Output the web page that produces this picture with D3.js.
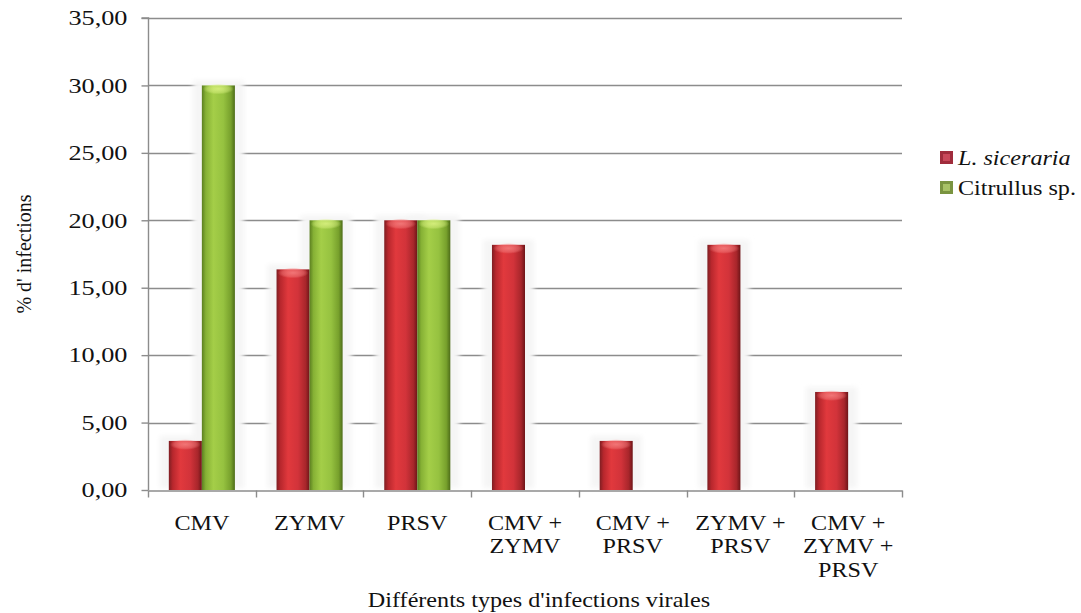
<!DOCTYPE html>
<html>
<head>
<meta charset="utf-8">
<script src="https://cdn.jsdelivr.net/npm/d3@7"></script>
<style>
  html, body { margin: 0; padding: 0; background: #fff; }
  svg { display: block; }
  text { font-family: "Liberation Serif", "Times New Roman", serif; fill: #111; }
</style>
</head>
<body>
<svg id="chart" width="1081" height="613"></svg>
<script>
// Virus combinations on the x axis
const categories = [
  ["CMV"],
  ["ZYMV"],
  ["PRSV"],
  ["CMV +", "ZYMV"],
  ["CMV +", "PRSV"],
  ["ZYMV +", "PRSV"],
  ["CMV +", "ZYMV +", "PRSV"]
];
const categoryKeys = ["CMV", "ZYMV", "PRSV", "CMV+ZYMV", "CMV+PRSV", "ZYMV+PRSV", "CMV+ZYMV+PRSV"];

// Infection rates (%) per host
const seriesNames = ["L. siceraria", "Citrullus sp."];
const sicerariaValues = [3.64, 16.36, 20.00, 18.18, 3.64, 18.18, 7.27];
const citrullusValues = [30.00, 20.00, 20.00, 0, 0, 0, 0];

const yTicks = [0, 5, 10, 15, 20, 25, 30, 35];

const SERIF = "Liberation Serif";
const svg = d3.select("#chart");
const plot = { left: 148, right: 902, top: 18, bottom: 490 };

const x = d3.scaleBand().domain(categoryKeys).range([plot.left, plot.right]).paddingInner(0).paddingOuter(0);
const inner = d3.scaleBand().domain(seriesNames).range([0, x.bandwidth()]).paddingInner(0).paddingOuter(0.63);
const y = d3.scaleLinear().domain([0, 35]).range([plot.bottom, plot.top]);

const fmt = v => d3.format(".2f")(v).replace(".", ",");

// Gradients giving the bars a rounded, cylindrical look
const defs = svg.append("defs");
function bodyGradient(id, stops) {
  const g = defs.append("linearGradient").attr("id", id).attr("x1", "0").attr("x2", "1").attr("y1", "0").attr("y2", "0");
  stops.forEach(([o, c]) => g.append("stop").attr("offset", o).attr("stop-color", c));
}
bodyGradient("redBody", [[0, "#7e1e22"], [0.12, "#b8272d"], [0.35, "#e1393d"], [0.65, "#d2333a"], [0.88, "#a8262b"], [1, "#6e1518"]]);
bodyGradient("greenBody", [[0, "#5b7f20"], [0.12, "#86b135"], [0.35, "#a4ce48"], [0.65, "#96c240"], [0.88, "#77a02c"], [1, "#4d6c18"]]);
function capGradient(id, inner) {
  const g = defs.append("radialGradient").attr("id", id).attr("cx", "0.5").attr("cy", "0.45").attr("r", "0.5");
  g.append("stop").attr("offset", 0).attr("stop-color", inner).attr("stop-opacity", 0.85);
  g.append("stop").attr("offset", 0.7).attr("stop-color", inner).attr("stop-opacity", 0.45);
  g.append("stop").attr("offset", 1).attr("stop-color", inner).attr("stop-opacity", 0);
}
capGradient("redCap", "#f58080");
capGradient("greenCap", "#dcf384");
defs.append("filter").attr("id", "halo").attr("x", "-50%").attr("y", "-20%").attr("width", "200%").attr("height", "140%")
  .append("feGaussianBlur").attr("stdDeviation", 2.5);

// Gridlines
svg.append("g")
  .selectAll("line").data(yTicks.filter(t => t > 0)).join("line")
  .attr("x1", plot.left).attr("x2", plot.right)
  .attr("y1", d => Math.round(y(d)) + 0.5).attr("y2", d => Math.round(y(d)) + 0.5)
  .attr("stroke", "#8c8c8c").attr("stroke-width", 1.4);

const rows = categoryKeys.map((k, i) => ({ key: k, values: [sicerariaValues[i], citrullusValues[i]] }));
const bars = [];
rows.forEach(r => r.values.forEach((v, j) => { if (v > 0) bars.push({ key: r.key, series: seriesNames[j], j, v }); }));

// Soft light halo behind each bar
svg.append("g").selectAll("rect").data(bars).join("rect")
  .attr("x", d => x(d.key) + inner(d.series) - 9)
  .attr("width", inner.bandwidth() + 18)
  .attr("y", d => y(d.v) - 5)
  .attr("height", d => plot.bottom - y(d.v) + 3)
  .attr("fill", "#f5f5f5").attr("filter", "url(#halo)");

// Axes
const yAxis = d3.axisLeft(y).tickValues(yTicks).tickFormat(fmt).tickSize(7).tickPadding(21);
const gy = svg.append("g").attr("transform", `translate(${plot.left + 0.5},0)`).call(yAxis);
gy.attr("font-family", SERIF);
gy.select(".domain").attr("stroke", "#8c8c8c").attr("stroke-width", 1.4).attr("d", `M-7,${plot.top}H0V${plot.bottom}`);
gy.selectAll(".tick line").attr("stroke", "#8c8c8c").attr("stroke-width", 1.4);
gy.selectAll(".tick text").attr("font-size", 21).attr("font-family", SERIF).attr("fill", "#111")
  .attr("transform", "scale(1.25,1)")
  .attr("x", -21 / 1.25);

const xAxis = d3.axisBottom(x).tickSize(0).tickFormat("");
const gx = svg.append("g").attr("transform", `translate(0,${plot.bottom + 0.5})`).call(xAxis);
gx.select(".domain").attr("stroke", "#8c8c8c").attr("stroke-width", 1.4);
gx.selectAll(".bound").data(categoryKeys.concat(["end"])).join("line")
  .attr("x1", (d, i) => Math.round(plot.left + i * x.bandwidth()) + 0.5)
  .attr("x2", (d, i) => Math.round(plot.left + i * x.bandwidth()) + 0.5)
  .attr("y1", 0).attr("y2", 7).attr("stroke", "#8c8c8c").attr("stroke-width", 1.4);

// Category labels, one line per virus
const labels = svg.append("g").attr("font-family", SERIF);
categories.forEach((lines, i) => {
  const cx = x(categoryKeys[i]) + x.bandwidth() / 2;
  const t = labels.append("text").attr("text-anchor", "middle").attr("font-size", 21).attr("font-family", SERIF)
    .attr("transform", `translate(${cx},0) scale(1.15,1)`);
  lines.forEach((ln, k) => t.append("tspan").attr("x", 0).attr("y", 530 + k * 23.5).text(ln));
});

// Bars
const barG = svg.append("g");
bars.forEach(d => {
  const bx = x(d.key) + inner(d.series);
  const bw = inner.bandwidth();
  const top = y(d.v);
  barG.append("rect").attr("x", bx).attr("y", top).attr("width", bw).attr("height", plot.bottom - top)
    .attr("fill", d.j === 0 ? "url(#redBody)" : "url(#greenBody)");
  barG.append("ellipse").attr("cx", bx + bw / 2).attr("cy", top + 4).attr("rx", bw / 2 - 1).attr("ry", 5.5)
    .attr("fill", d.j === 0 ? "url(#redCap)" : "url(#greenCap)");
});

// Axis titles
svg.append("text").attr("text-anchor", "middle").attr("font-size", 21).attr("font-family", SERIF)
  .attr("transform", `translate(539,607) scale(1.15,1)`).text("Différents types d'infections virales");
svg.append("text").attr("text-anchor", "middle").attr("font-size", 20).attr("font-family", SERIF)
  .attr("transform", "translate(31,254) rotate(-90)").text("% d' infections");

// Legend
const legend = svg.append("g").attr("transform", "translate(940,151)");
const swatch = [["#c9485a", "#a02c3c"], ["#a8c266", "#7a9440"]];
seriesNames.forEach((name, i) => {
  const g = legend.append("g").attr("transform", `translate(0,${i * 30})`);
  g.append("rect").attr("x", 0).attr("y", 0).attr("width", 13).attr("height", 13).attr("fill", swatch[i][1]);
  g.append("rect").attr("x", 3).attr("y", 3).attr("width", 7).attr("height", 7).attr("fill", swatch[i][0]);
  g.append("text").attr("x", 18 / 1.15).attr("y", 14).attr("font-size", 21).attr("font-family", SERIF)
    .attr("font-style", i === 0 ? "italic" : "normal")
    .attr("transform", "scale(1.15,1)").text(name);
});
</script>
</body>
</html>
